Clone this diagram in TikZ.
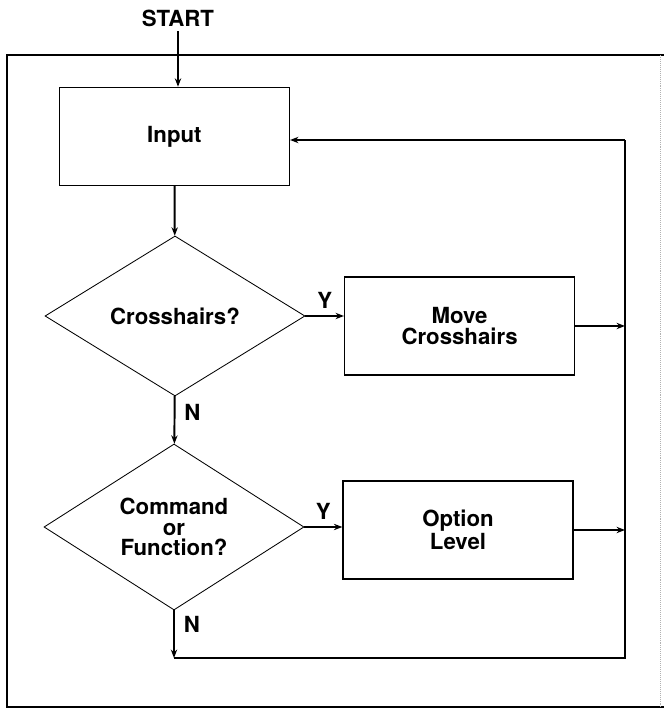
\documentclass[tikz,border=0pt]{standalone}
\usepackage{fontspec}
\setmainfont{TeX Gyre Heros}
\usetikzlibrary{shapes.geometric,arrows.meta}

\begin{document}
\begin{tikzpicture}[
		font=\bfseries\fontsize{15.8}{14.5}\selectfont,
		box/.style={draw,line width=0.9pt,minimum width=5.75cm,minimum height=2.45cm,align=center},
		test/.style={draw,diamond,line width=0.6pt,inner sep=0pt,minimum width=6.5cm,minimum height=4cm,align=center},
		flow/.style={line width=1.4pt,-{Stealth[length=6pt,width=4.5pt]}},
		line/.style={line width=1.4pt}]
		\useasboundingbox(0,0)rectangle(16.6,17.75);
		\draw[line width=1.3pt](16.6,16.375)--(0.175,16.375)--(0.175,0.075)--(16.6,0.075);
		\draw[line width=0.4pt,gray!60,densely dotted](16.5,16.375)--(16.5,0.075);
		\node(start) at(4.45,17.3){START};
		\node[box](in) at(4.36,14.34){Input};
		\node[test](cross) at(4.375,9.85){Crosshairs?};
		\node[box](move) at(11.49,9.6){Move\\Crosshairs};
		\node[test](cmd) at(4.35,4.575){Command\\or\\Function?};
		\node[box](opt) at(11.45,4.5){Option\\Level};
		\coordinate(ret) at(4.35,1.3);
		\coordinate(fbot) at(15.625,1.3);
		\coordinate(ftop) at(15.625,14.25);
		\draw[flow](start.south)--(start.south|-in.north);
		\draw[flow](in)--(cross);
		\draw[flow](cross.east)--node[above=1pt](y1){Y}(cross.east-|move.west);
		\draw[flow](cross)--node[pos=0.35,right=3pt](n1){N}(cmd);
		\draw[flow](cmd.east)--node[above=1pt](y2){Y}(cmd.east-|opt.west);
		\draw[flow](cmd.south)--node[pos=0.3,right=3pt](n2){N}(ret);
		\draw[line](ret)--(fbot)--(ftop);
		\draw[flow](ftop)--(ftop-|in.east);
		\draw[flow](move.east)--(move.east-|fbot);
		\draw[flow](opt.east)--(opt.east-|fbot);
		\end{tikzpicture}
\end{document}
